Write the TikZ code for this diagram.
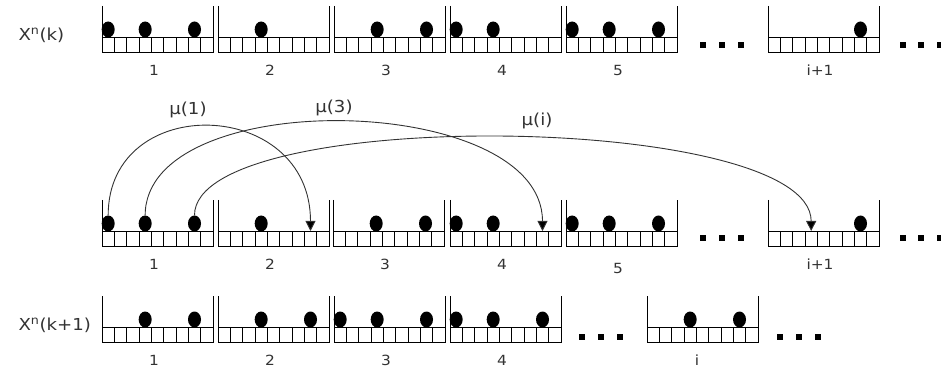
\documentclass[tikz,border=0pt]{standalone}
\usepackage{fontspec}
\setmainfont{DejaVu Sans}[FakeStretch=1.1]
\usetikzlibrary{shapes.geometric,arrows.meta}

% one buffer of 9 slots: #1 = left x, #2 = bottom y
\newcommand{\slots}[2]{%
  \draw[slotline] (#1,#2+46) -- (#1,#2) -- (#1+111,#2) -- (#1+111,#2+46);
  \draw[slotline] (#1,#2+15) -- (#1+111,#2+15);
  \foreach \cl in {1,...,8} {\draw[slotline] ({#1+\cl*12.333},#2) -- ++(0,15);}
}
% ball: #1 = name, #2 = left x of buffer, #3 = slot, #4 = bottom y
\newcommand{\ball}[4]{\node[ball] (#1) at ({#2+(#3+0.5)*12.333},{#4+22.5}) {};}

\begin{document}
\begin{tikzpicture}[x=1pt,y=1pt,
    slotline/.style={line width=0.9pt},
    ball/.style={ellipse,fill=black,inner sep=0pt,minimum width=13pt,minimum height=16pt},
    num/.style={font=\fontsize{14}{16}\selectfont,text=black!80},
    lbl/.style={font=\fontsize{16.5}{19}\selectfont,text=black!80},
    jump/.style={draw=black!80,line width=0.9pt,-{Triangle[width=10pt,length=10pt,fill=black]}}]
        \useasboundingbox (0,0) rectangle (941,372);
        \node[lbl,anchor=west] (xk) at (15,337) {X\textsuperscript{n}(k)};
        \node[lbl,anchor=west] (xk1) at (15,47) {X\textsuperscript{n}(k+1)};
        % row k
        \slots{102}{320} \slots{218}{320} \slots{334}{320} \slots{450}{320} \slots{566}{320} \slots{768}{320}
        \ball{t1-0}{102}{0}{320} \ball{t1-3}{102}{3}{320} \ball{t1-7}{102}{7}{320}
        \ball{t2-3}{218}{3}{320}
        \ball{t3-3}{334}{3}{320} \ball{t3-7}{334}{7}{320}
        \ball{t4-0}{450}{0}{320} \ball{t4-3}{450}{3}{320}
        \ball{t5-0}{566}{0}{320} \ball{t5-3}{566}{3}{320} \ball{t5-7}{566}{7}{320}
        \ball{ti-7}{768}{7}{320}
        \node[num] (tn1) at (154,302) {1};
        \node[num] (tn2) at (270,302) {2};
        \node[num] (tn3) at (386,302) {3};
        \node[num] (tn4) at (502,302) {4};
        \node[num] (tn5) at (618,302) {5};
        \node[num] (tni) at (820,302) {i+1};
        \foreach \xd in {703,722,741,903,921,940} \fill (\xd-3,324) rectangle ++(6,6);
        % moves
        \slots{102}{126} \slots{218}{126} \slots{333}{126} \slots{450}{126} \slots{566}{126} \slots{768}{126}
        \ball{m1-0}{102}{0}{126} \ball{m1-3}{102}{3}{126} \ball{m1-7}{102}{7}{126}
        \ball{m2-3}{218}{3}{126}
        \ball{m3-3}{333}{3}{126} \ball{m3-7}{333}{7}{126}
        \ball{m4-0}{450}{0}{126} \ball{m4-3}{450}{3}{126}
        \ball{m5-0}{566}{0}{126} \ball{m5-3}{566}{3}{126} \ball{m5-7}{566}{7}{126}
        \ball{mi-7}{768}{7}{126}
        \coordinate (m2-7) at ({218+7.5*12.333},141);
        \coordinate (m4-7) at ({450+7.5*12.333},141);
        \coordinate (mi-3) at ({768+3.5*12.333},141);
        \node[num] (mn1) at (154,108) {1};
        \node[num] (mn2) at (270,108) {2};
        \node[num] (mn3) at (385,108) {3};
        \node[num] (mn4) at (502,108) {4};
        \node[num] (mn5) at (618,104) {5};
        \node[num] (mni) at (820,108) {i+1};
        \foreach \xd in {703,722,741,903,921,940} \fill (\xd-3,131) rectangle ++(6,6);
        \draw[jump] (m1-0.north) .. controls +(0,124) and +(0,134) .. (m2-7);
        \draw[jump] (m1-3.north) .. controls +(0,131) and +(0,139) .. (m4-7);
        \draw[jump] (m1-7.north) .. controls +(0,110) and +(0,119) .. (mi-3);
        \node[lbl] (mu1) at (188,262) {μ(1)};
        \node[lbl] (mu3) at (334,264) {μ(3)};
        \node[lbl] (mui) at (537,251) {μ(i)};
        % row k+1
        \slots{102}{30} \slots{218}{30} \slots{334}{30} \slots{450}{30} \slots{647}{30}
        \ball{b1-3}{102}{3}{30} \ball{b1-7}{102}{7}{30}
        \ball{b2-3}{218}{3}{30} \ball{b2-7}{218}{7}{30}
        \ball{b3-0}{334}{0}{30} \ball{b3-3}{334}{3}{30} \ball{b3-7}{334}{7}{30}
        \ball{b4-0}{450}{0}{30} \ball{b4-3}{450}{3}{30} \ball{b4-7}{450}{7}{30}
        \ball{bi-3}{647}{3}{30} \ball{bi-7}{647}{7}{30}
        \node[num] (bn1) at (154,12) {1};
        \node[num] (bn2) at (270,12) {2};
        \node[num] (bn3) at (386,12) {3};
        \node[num] (bn4) at (502,12) {4};
        \node[num] (bni) at (697,12) {i};
        \foreach \xd in {582,601,620,780,799,818} \fill (\xd-3,32) rectangle ++(6,6);
      \end{tikzpicture}
\end{document}
